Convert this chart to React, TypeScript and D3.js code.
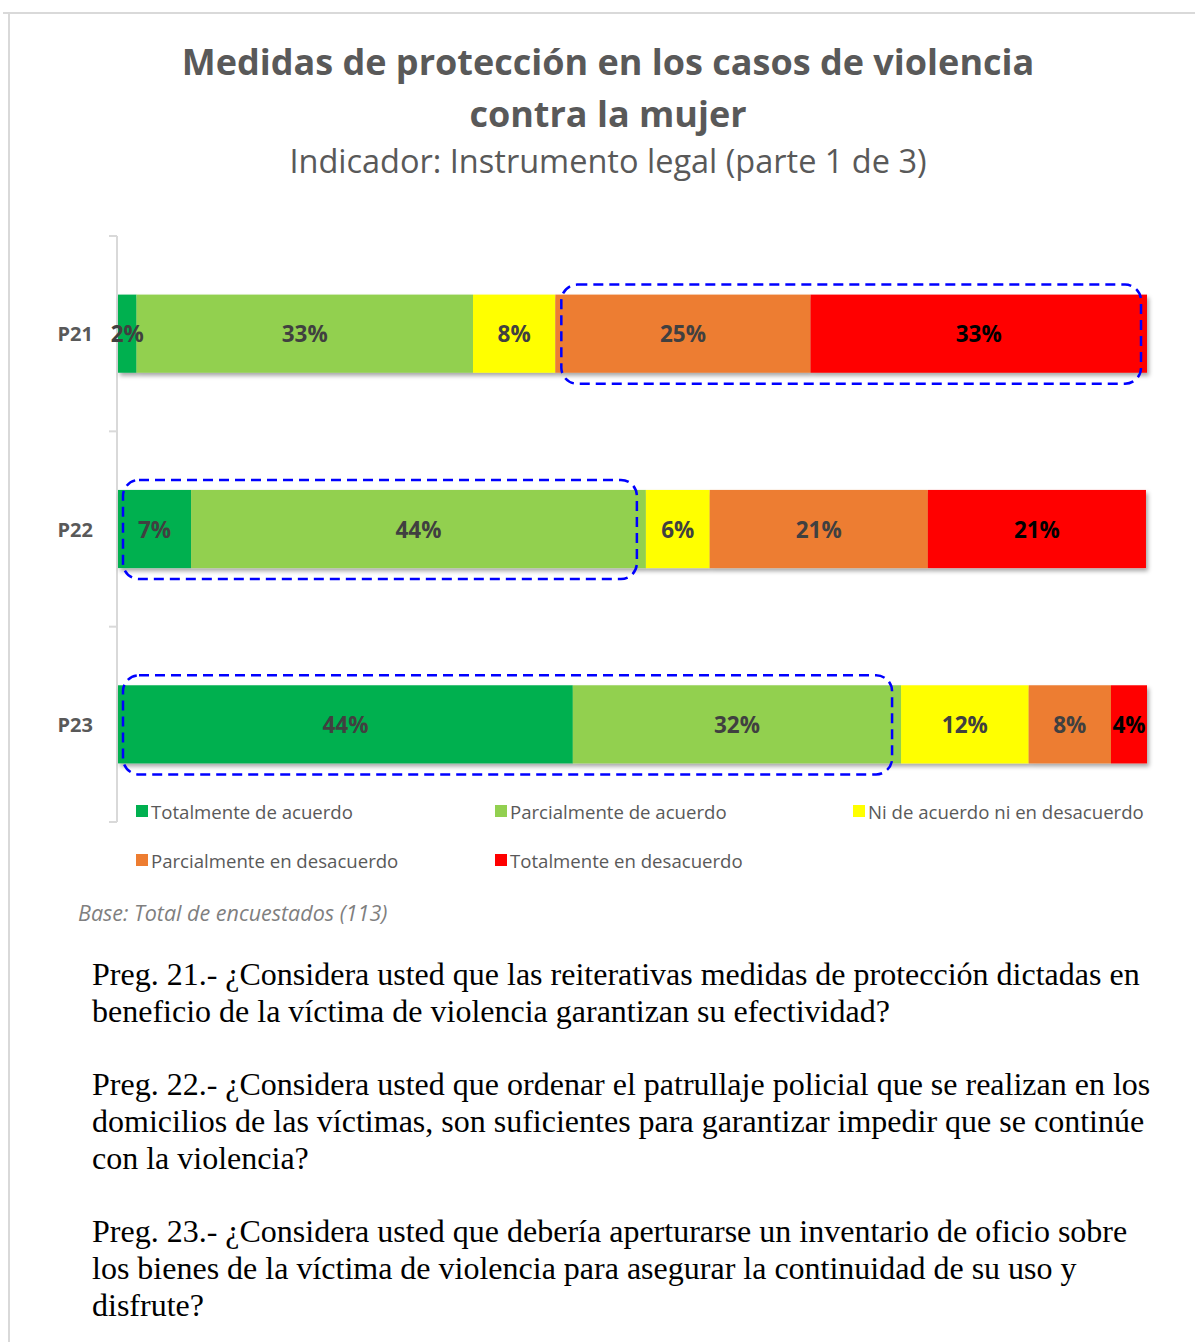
import React from "react";
import * as d3 from "d3";

const categories = ["P21", "P22", "P23"];
const seriesNames = [
  "Totalmente de acuerdo",
  "Parcialmente de acuerdo",
  "Ni de acuerdo ni en desacuerdo",
  "Parcialmente en desacuerdo",
  "Totalmente en desacuerdo",
];
const seriesColors = ["#00b050", "#92d050", "#ffff00", "#ed7d31", "#ff0000"];
const labelColors = ["#404040", "#404040", "#404040", "#404040", "#000000"];
const p21 = [1.8, 32.7, 8.0, 24.8, 32.7];
const p22 = [7.1, 44.2, 6.2, 21.2, 21.2];
const p23 = [44.2, 31.9, 12.4, 8.0, 3.5];
const values = [p21, p22, p23];

// highlighted segment ranges [category index, first segment, last segment]
const highlights: [number, number, number][] = [
  [0, 3, 4],
  [1, 0, 1],
  [2, 0, 1],
];

const titleLines = ["Medidas de protección en los casos de violencia", "contra la mujer"];
const subtitle = "Indicador: Instrumento legal (parte 1 de 3)";
const baseNote = "Base: Total de encuestados (113)";
const questions = [
  [
    "Preg. 21.- ¿Considera usted que las reiterativas medidas de protección dictadas en",
    "beneficio de la víctima de violencia garantizan su efectividad?",
  ],
  [
    "Preg. 22.- ¿Considera usted que ordenar el patrullaje policial que se realizan en los",
    "domicilios de las víctimas, son suficientes para garantizar impedir que se continúe",
    "con la violencia?",
  ],
  [
    "Preg. 23.- ¿Considera usted que debería aperturarse un inventario de oficio sobre",
    "los bienes de la víctima de violencia para asegurar la continuidad de su uso y",
    "disfrute?",
  ],
];

const W = 1195;
const H = 1342;
const sans = "'Open Sans', sans-serif";

export default function App() {
  const x = d3.scaleLinear().domain([0, 100]).range([118, 1147]);
  const y = d3.scaleBand().domain(categories).range([236, 822]).paddingInner(0.6).paddingOuter(0.3);
  const bh = y.bandwidth();

  const stacks = values.map((vals) => {
    let acc = 0;
    return vals.map((v) => {
      const s = acc;
      acc += v;
      return [s, acc];
    });
  });

  const legendPos = [
    [136, 811],
    [495, 811],
    [853, 811],
    [136, 860],
    [495, 860],
  ];

  let qy = 985;
  const qLines: { t: string; y: number }[] = [];
  questions.forEach((q) => {
    q.forEach((t) => {
      qLines.push({ t, y: qy });
      qy += 37;
    });
    qy += 36;
  });

  const tickYs = d3.range(categories.length + 1).map((i) => 236 + i * y.step());

  return (
    <div style={{ position: "absolute", left: 0, top: 0 }}>
      <svg width={W} height={H} style={{ display: "block" }}>
        <defs>
          <filter id="shadow" x="-5%" y="-20%" width="110%" height="150%">
            <feDropShadow dx="2" dy="3" stdDeviation="2" floodColor="#000" floodOpacity="0.35" />
          </filter>
        </defs>
        <rect width={W} height={H} fill="#fff" />
        {/* frame */}
        <line x1={3} x2={W} y1={13} y2={13} stroke="#d9d9d9" strokeWidth={2} />
        <line x1={9} x2={9} y1={13} y2={H} stroke="#d9d9d9" strokeWidth={2} />

        {/* titles */}
        <g fontFamily={sans} textAnchor="middle" fill="#595959">
          {titleLines.map((t, i) => (
            <text key={i} x={608} y={75 + i * 52} fontSize={36} fontWeight="bold">
              {t}
            </text>
          ))}
          <text x={608} y={173} fontSize={32.5}>
            {subtitle}
          </text>
        </g>

        {/* axis */}
        <line x1={117} x2={117} y1={236} y2={822} stroke="#d9d9d9" strokeWidth={2} />
        {tickYs.map((ty, i) => (
          <line key={i} x1={109} x2={117} y1={ty} y2={ty} stroke="#d9d9d9" strokeWidth={2} />
        ))}
        {categories.map((c) => (
          <text
            key={c}
            x={93}
            y={y(c)! + bh / 2}
            textAnchor="end"
            dominantBaseline="central"
            fontFamily={sans}
            fontWeight="bold"
            fontSize={20}
            fill="#595959"
          >
            {c}
          </text>
        ))}

        {/* bars */}
        {categories.map((c, ci) => (
          <g key={c} filter="url(#shadow)">
            {stacks[ci].map(([s, e], si) => (
              <rect
                key={si}
                x={x(s)}
                y={y(c)!}
                width={x(e) - x(s)}
                height={bh}
                fill={seriesColors[si]}
              />
            ))}
          </g>
        ))}
        {categories.map((c, ci) => (
          <g key={c + "l"}>
            {stacks[ci].map(([s, e], si) => (
              <text
                key={si}
                x={(x(s) + x(e)) / 2}
                y={y(c)! + bh / 2}
                textAnchor="middle"
                dominantBaseline="central"
                fontFamily={sans}
                fontWeight="bold"
                fontSize={22.5}
                fill={labelColors[si]}
              >
                {Math.round(values[ci][si])}%
              </text>
            ))}
          </g>
        ))}

        {/* highlight boxes */}
        {highlights.map(([ci, a, b], i) => {
          const c = categories[ci];
          const [s] = stacks[ci][a];
          const [, e] = stacks[ci][b];
          const x0 = a === 0 ? x(s) + 5 : x(s) + 6;
          const x1 = b === 4 ? x(e) - 6 : x(e) - 9;
          return (
            <rect
              key={i}
              x={x0}
              y={y(c)! - 10}
              width={x1 - x0}
              height={bh + 21}
              rx={16}
              fill="none"
              stroke="#0000ff"
              strokeWidth={2.5}
              strokeDasharray="10 6"
            />
          );
        })}

        {/* legend */}
        {seriesNames.map((n, i) => (
          <g key={n} transform={`translate(${legendPos[i][0]},${legendPos[i][1]})`}>
            <rect x={0} y={-6} width={12} height={12} fill={seriesColors[i]} />
            <text x={15} y={0} dominantBaseline="central" fontFamily={sans} fontSize={18.6} fill="#595959">
              {n}
            </text>
          </g>
        ))}

        <text x={78} y={921} fontFamily={sans} fontStyle="italic" fontSize={21.5} fill="#7f7f7f">
          {baseNote}
        </text>

        {qLines.map((l, i) => (
          <text key={i} x={92} y={l.y} fontFamily="'Liberation Serif', 'Times New Roman', serif" fontSize={32} fill="#000">
            {l.t}
          </text>
        ))}
      </svg>
    </div>
  );
}
